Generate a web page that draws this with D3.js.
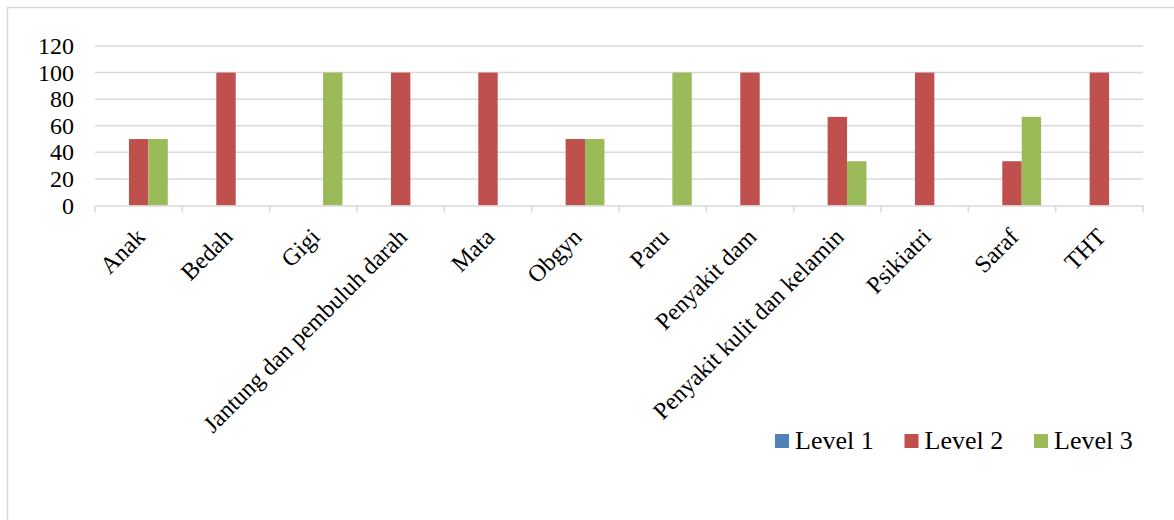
<!DOCTYPE html>
<html>
<head>
<meta charset="utf-8">
<script src="https://cdn.jsdelivr.net/npm/d3@7/dist/d3.min.js"></script>
<style>
  html, body { margin: 0; padding: 0; background: #fff; }
  svg { display: block; }
  text { font-family: "Liberation Serif", "Times New Roman", serif; fill: #000; }
</style>
</head>
<body>
<svg id="chart" width="1174" height="520"></svg>
<script>
// Clinic categories and the share (%) per level
const categories = ["Anak", "Bedah", "Gigi", "Jantung dan pembuluh darah", "Mata", "Obgyn",
  "Paru", "Penyakit dam", "Penyakit kulit dan kelamin", "Psikiatri", "Saraf", "THT"];
const seriesNames = ["Level 1", "Level 2", "Level 3"];
const level1 = [0, 0, 0, 0, 0, 0, 0, 0, 0, 0, 0, 0];
const level2 = [50, 100, 0, 100, 100, 50, 0, 100, 66.7, 100, 33.3, 100];
const level3 = [50, 0, 100, 0, 0, 50, 100, 0, 33.3, 0, 66.7, 0];
const yTicks = [0, 20, 40, 60, 80, 100, 120];
const colors = ["#4F81BD", "#C0504D", "#9BBB59"];

const series = [level1, level2, level3];
const svg = d3.select("#chart");

// outer chart frame
svg.append("rect")
  .attr("x", 7.5).attr("y", 7.5)
  .attr("width", 1200).attr("height", 600)
  .attr("fill", "none").attr("stroke", "#d9d9d9").attr("stroke-width", 1.5);

const plot = { left: 95, right: 1143, top: 46, bottom: 205.5 };

const x = d3.scaleBand().domain(categories).range([plot.left, plot.right]).padding(0);
const barW = x.bandwidth() / 4.5;
const xs = d3.scaleBand().domain(seriesNames)
  .range([(x.bandwidth() - 3 * barW) / 2, (x.bandwidth() + 3 * barW) / 2]).padding(0);
const y = d3.scaleLinear().domain([0, 120]).range([plot.bottom, plot.top]);

// horizontal gridlines
svg.append("g")
  .selectAll("line")
  .data(yTicks.filter(d => d > 0))
  .join("line")
  .attr("x1", plot.left).attr("x2", plot.right)
  .attr("y1", d => y(d)).attr("y2", d => y(d))
  .attr("stroke", "#d9d9d9").attr("stroke-width", 1.5);

// y tick labels
svg.append("g")
  .selectAll("text")
  .data(yTicks)
  .join("text")
  .attr("x", 74)
  .attr("y", d => y(d))
  .attr("dy", "0.34em")
  .attr("text-anchor", "end")
  .style("font-size", "24px")
  .text(d => d);

// bars
const groups = svg.append("g")
  .selectAll("g")
  .data(series)
  .join("g")
  .attr("fill", (d, i) => colors[i]);

groups.selectAll("rect")
  .data((vals, si) => vals.map((v, ci) => ({ v, ci, si })))
  .join("rect")
  .attr("x", d => x(categories[d.ci]) + xs(seriesNames[d.si]))
  .attr("width", xs.bandwidth())
  .attr("y", d => y(d.v))
  .attr("height", d => y(0) - y(d.v));

// category axis line and ticks
const xAxis = d3.axisBottom(x).tickSize(0).tickFormat("");
const gx = svg.append("g").attr("transform", `translate(0,${plot.bottom})`).call(xAxis);
gx.select(".domain").attr("stroke", "#d9d9d9").attr("stroke-width", 1.5);
gx.selectAll(".tick").remove();

const boundaries = categories.map(c => x(c)).concat([plot.right]);
svg.append("g")
  .selectAll("line")
  .data(boundaries)
  .join("line")
  .attr("x1", d => d).attr("x2", d => d)
  .attr("y1", plot.bottom).attr("y2", plot.bottom + 7)
  .attr("stroke", "#d9d9d9").attr("stroke-width", 1.5);

// rotated category labels
svg.append("g")
  .selectAll("text")
  .data(categories)
  .join("text")
  .attr("transform", d => `translate(${x(d) + x.bandwidth() / 2 - 4},${plot.bottom + 21}) rotate(-45)`)
  .attr("dy", "0.7em")
  .attr("text-anchor", "end")
  .style("font-size", "24px")
  .text(d => d);

// legend
const legend = svg.append("g")
  .selectAll("g")
  .data(seriesNames)
  .join("g")
  .attr("transform", (d, i) => `translate(${775 + i * 129.5},434)`);
legend.append("rect")
  .attr("width", 14).attr("height", 14)
  .attr("fill", (d, i) => colors[i]);
legend.append("text")
  .attr("x", 20).attr("y", 15)
  .style("font-size", "26px")
  .text(d => d);
</script>
</body>
</html>
